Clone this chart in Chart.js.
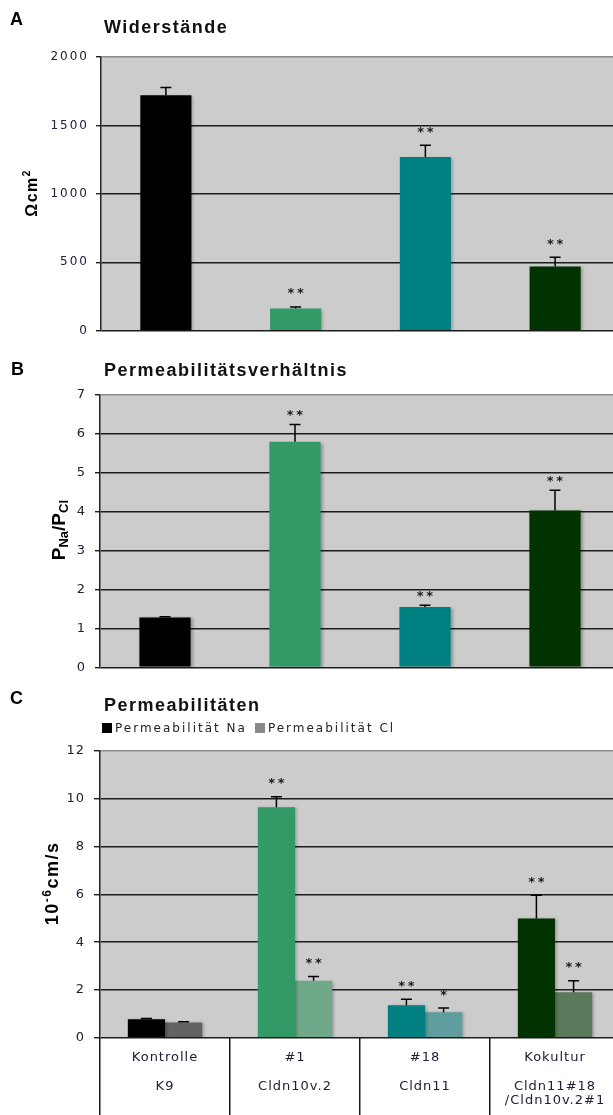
<!DOCTYPE html>
<html>
<head>
<meta charset="utf-8">
<script src="https://cdn.jsdelivr.net/npm/chart.js@4/dist/chart.umd.min.js"></script>
<style>
  html, body { margin: 0; padding: 0; background: #fff; }
  #fig { position: relative; width: 613px; height: 1115px; overflow: hidden; background: #fff; }
  #fig canvas { position: absolute; left: 0; }
  .letter, .title {
    position: absolute; white-space: nowrap; color: #000;
    font-family: "Liberation Sans", Arial, sans-serif; font-weight: bold;
    font-size: 18px; line-height: 18px;
  }
  .title { letter-spacing: 1.5px; color: #111; }
  #legendC {
    position: absolute; left: 102px; top: 722px; white-space: nowrap;
    font-family: "DejaVu Sans", Verdana, sans-serif; font-size: 12px; line-height: 12px;
    letter-spacing: 2px; color: #222;
  }
  #legendC .item { margin-right: 8px; }
  #legendC .box { display: inline-block; width: 10px; height: 10px; margin-right: 3px; vertical-align: -1px; }
</style>
</head>
<body>
<div id="fig">
  <canvas id="chartA" width="620" height="345" style="top:0px"></canvas>
  <canvas id="chartB" width="620" height="340" style="top:345px"></canvas>
  <canvas id="chartC" width="620" height="430" style="top:685px"></canvas>

  <div class="letter" style="left:10px;top:10px">A</div>
  <div class="title" style="left:104px;top:18px">Widerstände</div>
  <div class="letter" style="left:11px;top:360px">B</div>
  <div class="title" style="left:104px;top:361px">Permeabilitätsverhältnis</div>
  <div class="letter" style="left:10px;top:689px">C</div>
  <div class="title" style="left:104px;top:696px">Permeabilitäten</div>
  <div id="legendC"></div>
</div>

<script>
// ---- Data ----------------------------------------------------------------
const categories     = ['Kontrolle', '#1', '#18', 'Kokultur'];
const categoryDetail = [['K9'], ['Cldn10v.2'], ['Cldn11'], ['Cldn11#18', '/Cldn10v.2#1']];

const barColors = ['#000000', '#339966', '#008080', '#003300'];
const clColors  = ['#636363', '#6FA98A', '#5E9E9E', '#5B795B'];
const legendColors = ['#000000', '#8a8a8a'];

// A: transepithelial resistance (Ωcm²)
const resistance    = [1720, 162, 1270, 470];
const resistanceErr = [57, 12, 85, 67];
const resistanceSig = ['', '**', '**', '**'];

// B: permeability ratio PNa/PCl
const ratio    = [1.28, 5.80, 1.55, 4.03];
const ratioErr = [0.02, 0.44, 0.04, 0.52];
const ratioSig = ['', '**', '**', '**'];

// C: permeabilities (10^-6 cm/s)
const permNa    = [0.77, 9.65, 1.36, 4.99];
const permNaErr = [0.03, 0.44, 0.25, 0.97];
const permNaSig = ['', '**', '**', '**'];
const permCl    = [0.64, 2.38, 1.07, 1.90];
const permClErr = [0.03, 0.18, 0.17, 0.48];
const permClSig = ['', '**', '*', '**'];

const seriesNames = ['Permeabilität Na', 'Permeabilität Cl'];

// y axis ranges and tick steps
const yRangeA = { max: 2000, step: 500 };
const yRangeB = { max: 7, step: 1 };
const yRangeC = { max: 12, step: 2 };

// x labels: category name, a spacer line, then the construct name(s)
const xLabels = categories.map((c, i) => [c, ''].concat(categoryDetail[i]));

// ---- Shared drawing helpers --------------------------------------------
const TICK_FONT = '"DejaVu Sans", Verdana, sans-serif';
const GRID_DARK = '#1c1c1c';
const PLOT_BG = '#cccccc';

function panelPlugins(cfg) {
  return [
    {
      id: 'panelBackground',
      beforeDraw(chart) {
        const { ctx, chartArea: a } = chart;
        ctx.save();
        ctx.fillStyle = PLOT_BG;
        ctx.fillRect(a.left, a.top, a.right - a.left, a.bottom - a.top);
        ctx.restore();
        ctx.letterSpacing = cfg.tickSpacing || '0px';
      }
    },
    {
      id: 'barsWithErrors',
      beforeDatasetsDraw(chart) {
        const ctx = chart.ctx;
        ctx.save();
        ctx.shadowColor = 'rgba(0,0,0,0.28)';
        ctx.shadowBlur = 3;
        ctx.shadowOffsetX = 2;
        ctx.shadowOffsetY = 1;
      },
      afterDatasetsDraw(chart) {
        const ctx = chart.ctx;
        ctx.restore();
        const yScale = chart.scales.y;
        ctx.save();
        ctx.letterSpacing = '0px';
        chart.data.datasets.forEach((ds, di) => {
          const meta = chart.getDatasetMeta(di);
          meta.data.forEach((bar, i) => {
            const v = ds.data[i];
            const e = ds.errors[i];
            const yBar = yScale.getPixelForValue(v);
            const yTop = yScale.getPixelForValue(v + e);
            ctx.strokeStyle = '#000';
            ctx.lineWidth = 1.5;
            ctx.beginPath();
            ctx.moveTo(bar.x, yBar);
            ctx.lineTo(bar.x, yTop);
            ctx.moveTo(bar.x - cfg.cap / 2, yTop);
            ctx.lineTo(bar.x + cfg.cap / 2, yTop);
            ctx.stroke();
            const sig = ds.stars[i];
            if (sig) {
              ctx.font = 'bold 13px "DejaVu Sans", Verdana, sans-serif';
              ctx.fillStyle = '#1a1a1a';
              ctx.textAlign = 'center';
              ctx.textBaseline = 'alphabetic';
              const cy = yTop - cfg.starGap;
              const n = sig.length;
              for (let k = 0; k < n; k++) {
                const cx = bar.x + (k - (n - 1) / 2) * 9.5;
                ctx.fillText('*', cx, cy + 7.5);
              }
            }
          });
        });
        ctx.restore();
      }
    },
    {
      id: 'axisTitle',
      afterDraw(chart) {
        const t = cfg.title;
        const { ctx, chartArea: a } = chart;
        const cy = (a.top + a.bottom) / 2 + (t.shiftY || 0);
        const fam = '"Liberation Sans", Arial, sans-serif';
        const fontOf = p => 'bold ' + ((p.sub || p.sup) ? t.small : t.size) + 'px ' + fam;
        ctx.save();
        ctx.letterSpacing = t.spacing || '0px';
        ctx.fillStyle = '#000';
        ctx.textAlign = 'left';
        ctx.textBaseline = 'alphabetic';
        const widths = t.parts.map(p => { ctx.font = fontOf(p); return ctx.measureText(p.text).width; });
        const total = widths.reduce((s, w) => s + w, 0);
        ctx.translate(t.x, cy);
        ctx.rotate(-Math.PI / 2);
        let x = -total / 2;
        t.parts.forEach((p, i) => {
          ctx.font = fontOf(p);
          const dy = p.sup ? -t.size * 0.42 : (p.sub ? t.size * 0.2 : 0);
          ctx.fillText(p.text, x, dy);
          x += widths[i];
        });
        ctx.restore();
      }
    }
  ];
}

function yAxis(range, opt) {
  return {
    min: 0,
    max: range.max,
    afterFit(scale) { scale.width = opt.width; },
    ticks: {
      stepSize: range.step,
      color: '#20203a',
      padding: opt.padding,
      font: { family: TICK_FONT, size: opt.fontSize },
      callback: v => String(v)
    },
    grid: {
      drawTicks: true,
      tickLength: opt.tickLength,
      lineWidth: 1.4,
      tickColor: GRID_DARK,
      color: ctx => (ctx.tick && ctx.tick.value === range.max) ? '#8c8c8c' : GRID_DARK
    },
    border: { display: true, color: '#222', width: 1.5 }
  };
}

const common = {
  responsive: false,
  animation: false,
  devicePixelRatio: 1,
  events: [],
  plugins: { legend: { display: false }, tooltip: { enabled: false } }
};

// ---- Panel A: Widerstände -----------------------------------------------
new Chart(document.getElementById('chartA'), {
  type: 'bar',
  data: {
    labels: xLabels,
    datasets: [{
      data: resistance,
      errors: resistanceErr,
      stars: resistanceSig,
      backgroundColor: barColors,
      borderWidth: 0,
      categoryPercentage: 0.394,
      barPercentage: 1
    }]
  },
  options: Object.assign({}, common, {
    layout: { padding: { top: 57, bottom: 13, left: 0, right: 0 } },
    scales: {
      x: { display: false },
      y: yAxis(yRangeA, { width: 101, padding: 7, tickLength: 5, fontSize: 12 })
    }
  }),
  plugins: panelPlugins({
    tickSpacing: '2px', cap: 11, starGap: 17,
    title: { x: 36.5, shiftY: -1, size: 16, small: 10, spacing: '1.5px',
             parts: [{ text: 'Ωcm' }, { text: '2', sup: true }] }
  })
});

// ---- Panel B: Permeabilitätsverhältnis ----------------------------------
new Chart(document.getElementById('chartB'), {
  type: 'bar',
  data: {
    labels: xLabels,
    datasets: [{
      data: ratio,
      errors: ratioErr,
      stars: ratioSig,
      backgroundColor: barColors,
      borderWidth: 0,
      categoryPercentage: 0.394,
      barPercentage: 1
    }]
  },
  options: Object.assign({}, common, {
    layout: { padding: { top: 50, bottom: 13, left: 0, right: 0 } },
    scales: {
      x: { display: false },
      y: yAxis(yRangeB, { width: 100, padding: 10, tickLength: 5, fontSize: 13 })
    }
  }),
  plugins: panelPlugins({
    tickSpacing: '0px', cap: 11, starGap: 13,
    title: { x: 64.5, shiftY: -1, size: 19, small: 13, spacing: '0px',
             parts: [{ text: 'P' }, { text: 'Na', sub: true }, { text: '/P' }, { text: 'Cl', sub: true }] }
  })
});

// ---- Panel C: Permeabilitäten --------------------------------------------
const chartC = new Chart(document.getElementById('chartC'), {
  type: 'bar',
  data: {
    labels: xLabels,
    datasets: [
      {
        label: seriesNames[0],
        data: permNa,
        errors: permNaErr,
        stars: permNaSig,
        backgroundColor: barColors,
        borderWidth: 0,
        categoryPercentage: 0.572,
        barPercentage: 1
      },
      {
        label: seriesNames[1],
        data: permCl,
        errors: permClErr,
        stars: permClSig,
        backgroundColor: clColors,
        borderWidth: 0,
        categoryPercentage: 0.572,
        barPercentage: 1
      }
    ]
  },
  options: Object.assign({}, common, {
    layout: { padding: { top: 66, bottom: 0, left: 0, right: 0 } },
    scales: {
      x: {
        afterFit(scale) { scale.height = 77.3; },
        grid: {
          offset: true,
          drawOnChartArea: false,
          drawTicks: true,
          tickLength: 77.3,
          lineWidth: 1.5,
          color: '#1a1a1a'
        },
        border: { display: false },
        ticks: {
          autoSkip: false,
          maxRotation: 0,
          padding: -64.6,
          color: '#20203a',
          font: { family: TICK_FONT, size: 13, lineHeight: 1.1 }
        }
      },
      y: yAxis(yRangeC, { width: 100, padding: 9, tickLength: 6, fontSize: 13 })
    }
  }),
  plugins: panelPlugins({
    tickSpacing: '1px', cap: 11, starGap: 17,
    title: { x: 58.3, shiftY: -11, size: 18, small: 12, spacing: '1.5px',
             parts: [{ text: '10' }, { text: '-6', sup: true }, { text: 'cm/s' }] }
  })
});

// legend for panel C, built from the dataset names
const legendC = document.getElementById('legendC');
chartC.data.datasets.forEach((ds, i) => {
  const item = document.createElement('span');
  item.className = 'item';
  const box = document.createElement('span');
  box.className = 'box';
  box.style.background = legendColors[i];
  item.appendChild(box);
  item.appendChild(document.createTextNode(ds.label));
  legendC.appendChild(item);
});
</script>
</body>
</html>
